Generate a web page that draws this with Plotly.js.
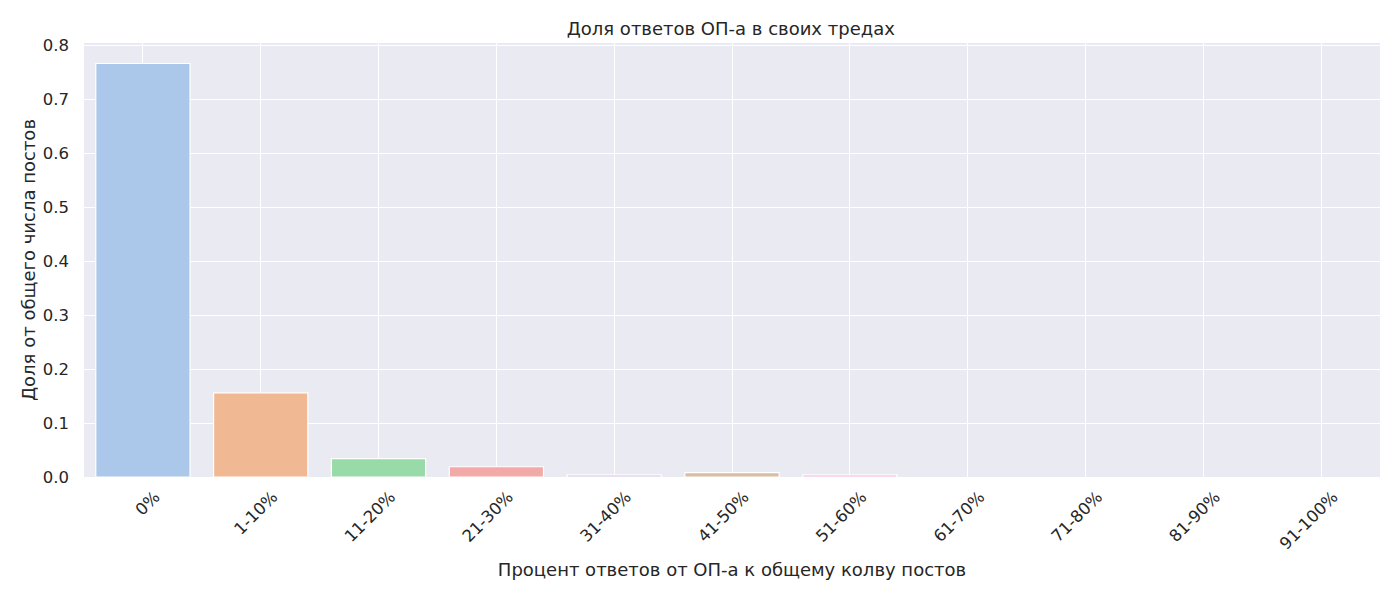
<!DOCTYPE html>
<html><head><meta charset="utf-8">
<script src="https://cdn.plot.ly/plotly-3.0.1.min.js"></script>
<style>html,body{margin:0;padding:0;background:#fff}</style>
</head><body>
<div id="chart" style="width:1400px;height:600px"></div>
<script>
const categories = ['0%','1-10%','11-20%','21-30%','31-40%','41-50%','51-60%','61-70%','71-80%','81-90%','91-100%'];
const shares = [0.766, 0.156, 0.034, 0.019, 0.004, 0.008, 0.004, 0, 0, 0, 0];
const barColors = ['#abc8eb','#f0b893','#99dba8','#f1aaa7','#cdbeee','#d8bca3','#f0b5df','#cfcfcf','#f0efab','#bfece9','#abc8eb'];
const tickVals = [0,0.1,0.2,0.3,0.4,0.5,0.6,0.7,0.8];

const font = 'DejaVu Sans, sans-serif';
Plotly.newPlot('chart', [{
  type: 'bar',
  x: categories,
  y: shares,
  width: 0.8,
  marker: {color: barColors, line: {color: '#ffffff', width: shares.map(v => v > 0 ? 1.2 : 0)}},
  hoverinfo: 'x+y'
}], {
  width: 1400, height: 600,
  margin: {l: 84, r: 20, t: 43, b: 123},
  paper_bgcolor: '#ffffff',
  plot_bgcolor: '#eaeaf2',
  font: {family: font, color: '#262626', size: 16.5},
  title: {text: 'Доля ответов ОП-а в своих тредах', font: {family: font, size: 18, color: '#262626'}, x: 0.522, xanchor: 'center', y: 0.953, yanchor: 'middle'},
  xaxis: {
    type: 'category', range: [-0.5, 10.5],
    tickangle: -45, showgrid: true, gridcolor: '#ffffff', gridwidth: 1.3,
    zeroline: false, showline: false, ticks: '', ticklen: 0,
    ticklabelshift: 12, ticklabelstandoff: 6,
    tickfont: {family: font, size: 16.5, color: '#262626'},
    title: {text: 'Процент ответов от ОП-а к общему колву постов', font: {family: font, size: 18, color: '#262626'}, standoff: 11}
  },
  yaxis: {
    range: [0, 0.804], tickvals: tickVals, ticktext: tickVals.map(v => v.toFixed(1)),
    showgrid: true, gridcolor: '#ffffff', gridwidth: 1.3,
    zeroline: false, showline: false, ticks: '',
    ticklabelstandoff: 14,
    tickfont: {family: font, size: 16.5, color: '#262626'},
    title: {text: 'Доля от общего числа постов', font: {family: font, size: 18, color: '#262626'}, standoff: 2}
  },
  showlegend: false,
  bargap: 0.2
}, {displayModeBar: false});
</script>
</body></html>
